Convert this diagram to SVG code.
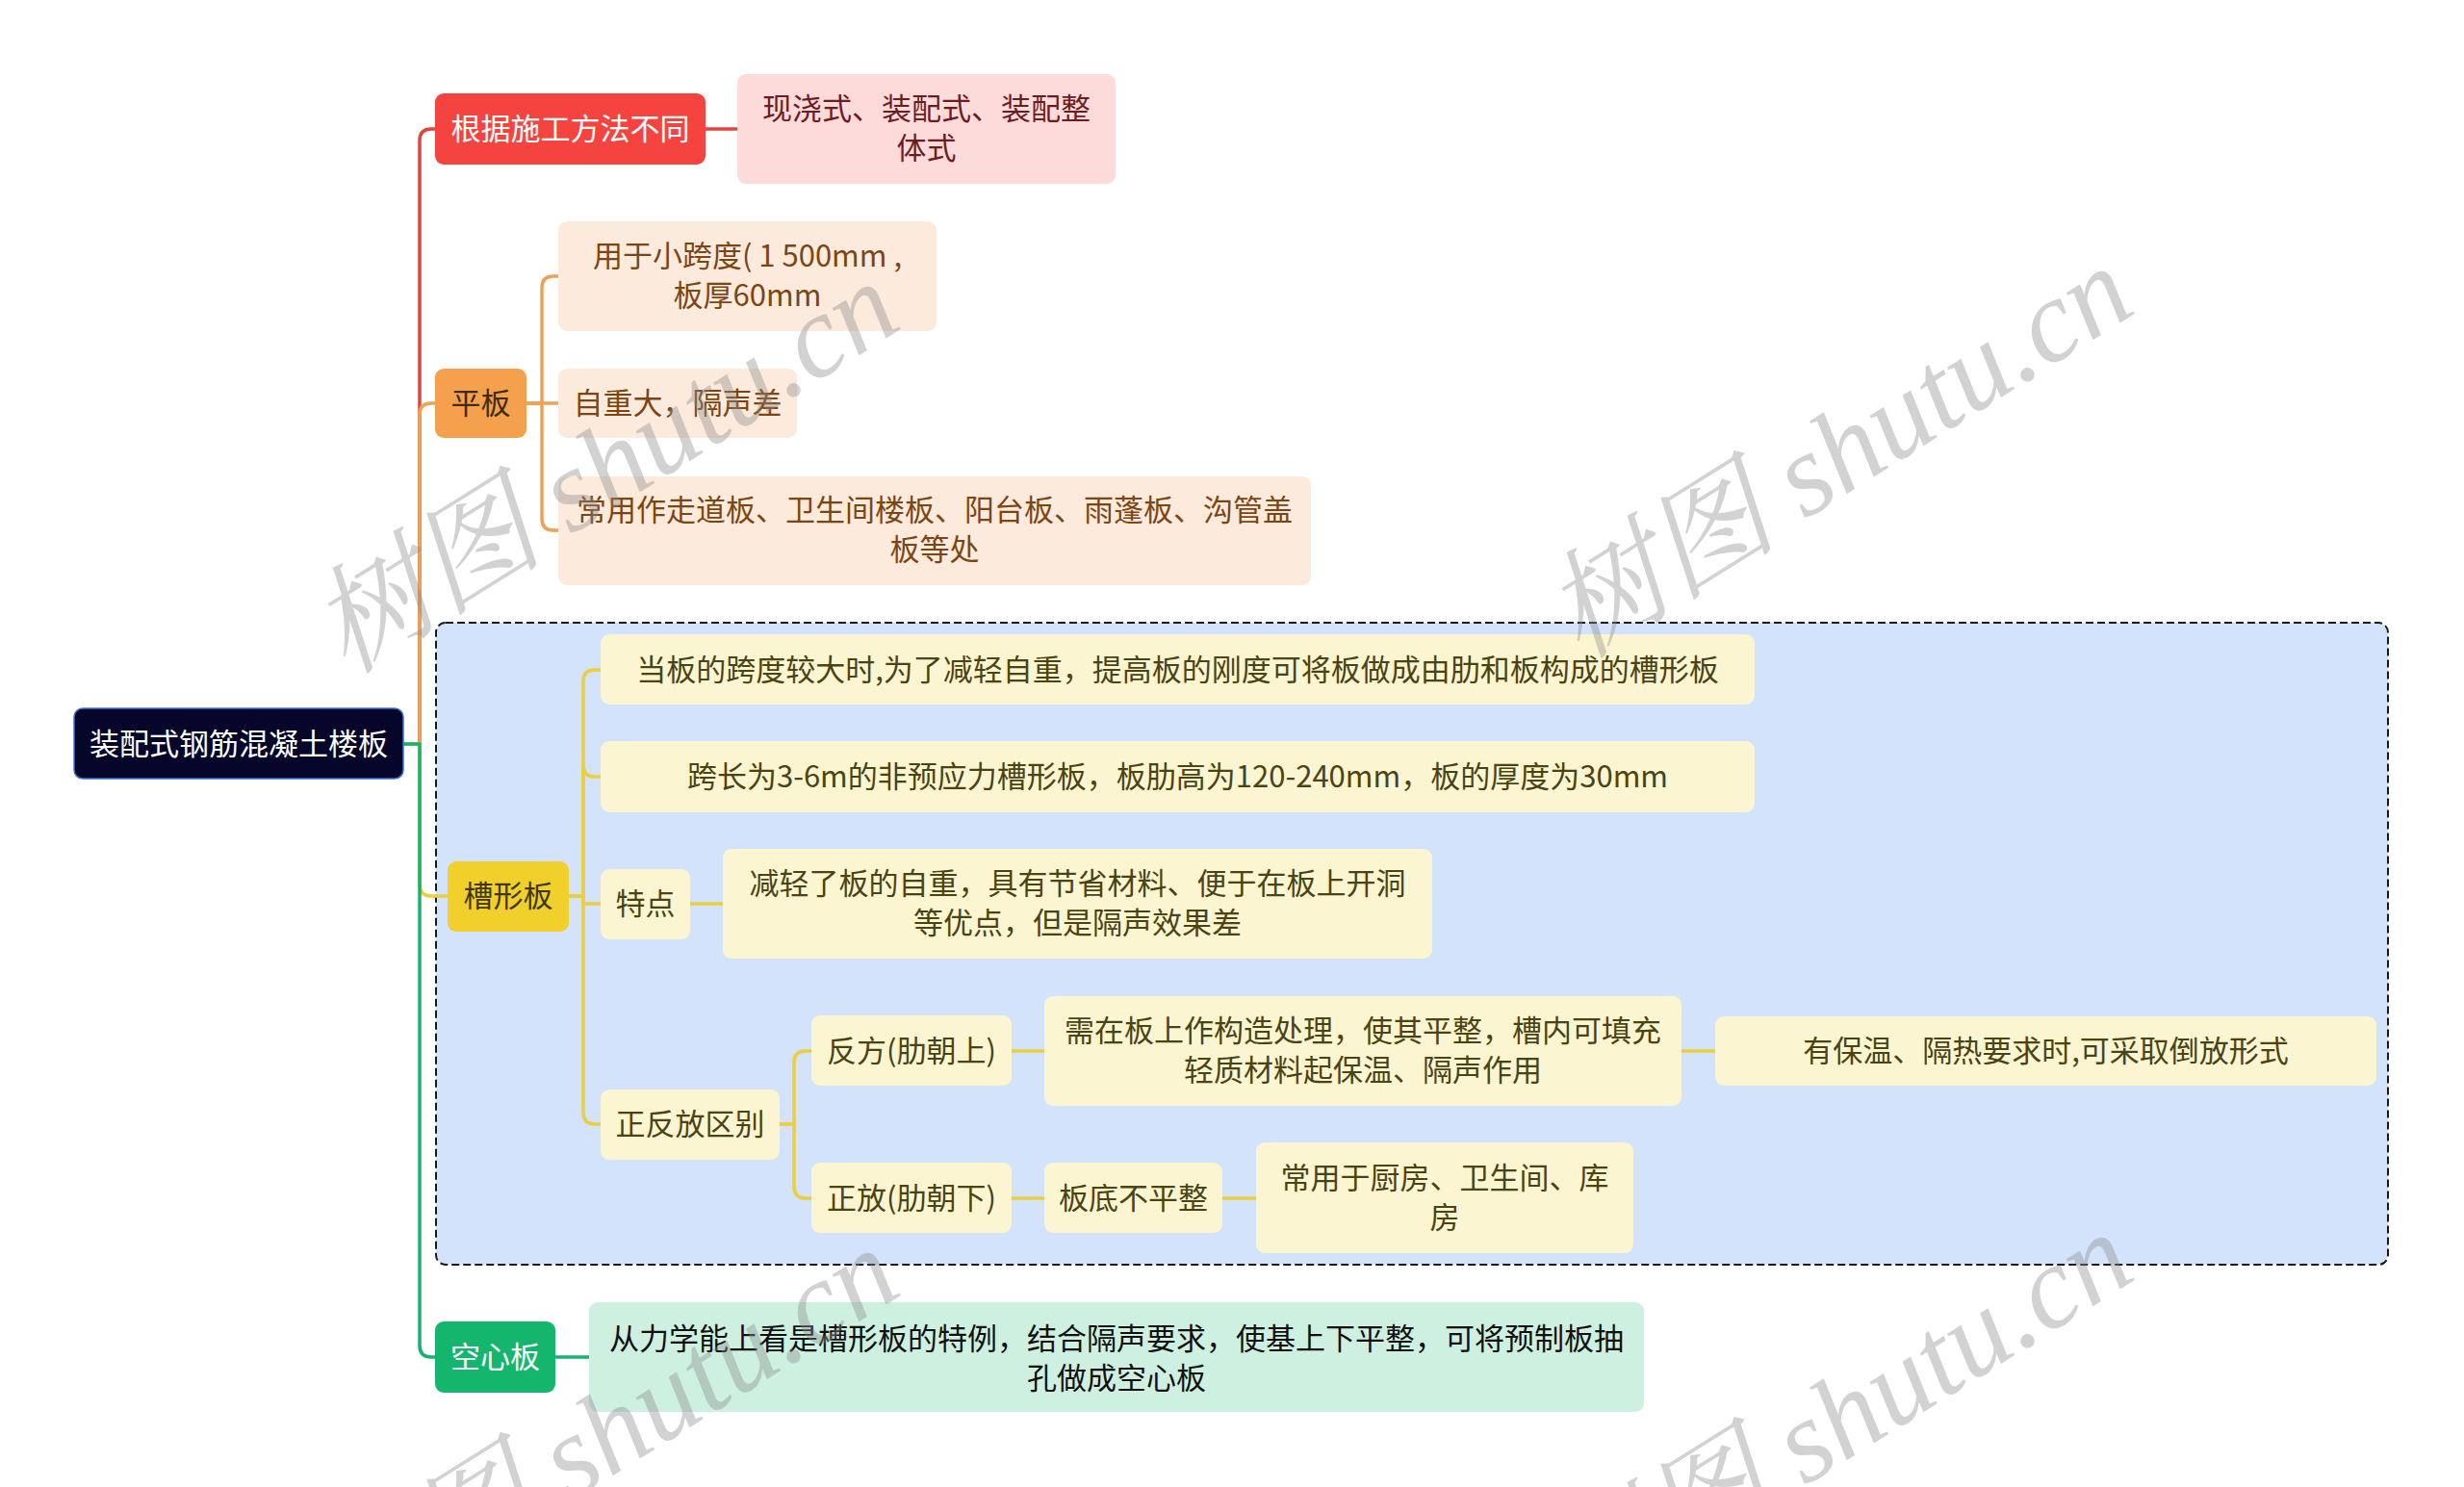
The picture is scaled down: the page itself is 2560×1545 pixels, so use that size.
<svg xmlns="http://www.w3.org/2000/svg" width="2560" height="1545" viewBox="0 0 2560 1545">
<style>
text{font-family:"Noto Sans CJK SC","Noto Sans",sans-serif;font-size:31px;text-anchor:middle;dominant-baseline:central}
.ln{fill:none;stroke-width:3.5;stroke-linecap:round;stroke-linejoin:round}
.r{stroke:#e5433d}.o{stroke:#eea256}.y{stroke:#ebcf3d}.g{stroke:#18b270}
.wm{font-family:"Liberation Serif","Noto Serif CJK SC","Noto Sans CJK SC",serif;font-style:italic;font-size:122px;fill:#8a8a8a;opacity:0.38;text-anchor:start;dominant-baseline:alphabetic}
</style>
<rect width="2560" height="1545" fill="#ffffff"/>
<g id="container">
<rect x="453" y="647" width="2028" height="667" rx="10" fill="#d3e3fb" stroke="#1a1a1a" stroke-width="2" stroke-dasharray="8 4"/>
</g>
<g id="connectors">
<path class="ln r" d="M419,773 H436 V146 Q436,134 448,134 H452"/>
<path class="ln r" d="M733,134 H766"/>
<path class="ln o" d="M419,773 H436 V431 Q436,419 448,419 H452"/>
<path class="ln o" d="M547,419 H563 V299 Q563,287 575,287 H580"/>
<path class="ln o" d="M547,419 H580"/>
<path class="ln o" d="M547,419 H563 V539 Q563,551 575,551 H580"/>
<path class="ln y" d="M419,773 H436 V919 Q436,931 448,931 H465"/>
<path class="ln y" d="M591,931 H606 V708 Q606,696 618,696 H624"/>
<path class="ln y" d="M591,931 H606 V795 Q606,807 618,807 H624"/>
<path class="ln y" d="M591,931 H606 V939 H624"/>
<path class="ln y" d="M591,931 H606 V1156 Q606,1168 618,1168 H624"/>
<path class="ln y" d="M717,939 H751"/>
<path class="ln y" d="M810,1168 H825 V1104 Q825,1092 837,1092 H843"/>
<path class="ln y" d="M810,1168 H825 V1233 Q825,1245 837,1245 H843"/>
<path class="ln y" d="M1051,1092 H1085"/>
<path class="ln y" d="M1747,1092 H1782"/>
<path class="ln y" d="M1051,1245 H1085"/>
<path class="ln y" d="M1270,1245 H1305"/>
<path class="ln g" d="M419,773 H436 V1398 Q436,1410 448,1410 H452"/>
<path class="ln g" d="M577,1410 H612"/>
</g>
<g id="root">
<rect x="77" y="736" width="342" height="73" rx="9" fill="#06062b" stroke="#3d72d4" stroke-width="1.5"/>
<text x="248" y="770" fill="#ffffff">装配式钢筋混凝土楼板</text>
</g>
<g id="n1">
<rect x="452" y="97" width="281" height="74" rx="9" fill="#f5443f"/>
<text x="592.5" y="131" fill="#ffffff">根据施工方法不同</text>
</g>
<g id="n1a">
<rect x="766" y="77" width="393" height="114" rx="9" fill="#fddbdb"/>
<text x="962.5" y="110.5" fill="#6e1c1c">现浇式、装配式、装配整</text>
<text x="962.5" y="151.5" fill="#6e1c1c">体式</text>
</g>
<g id="n2">
<rect x="452" y="383" width="95" height="72" rx="9" fill="#f5a04c"/>
<text x="499.5" y="416" fill="#3f2a13">平板</text>
</g>
<g id="n2a">
<rect x="580" y="230" width="393" height="114" rx="9" fill="#fcebdc"/>
<text x="776.5" y="263.5" fill="#7c4511">用于小跨度( 1 500mm ,</text>
<text x="776.5" y="304.5" fill="#7c4511">板厚60mm</text>
</g>
<g id="n2b">
<rect x="580" y="383" width="248" height="72" rx="9" fill="#fcebdc"/>
<text x="704" y="416" fill="#7c4511">自重大，隔声差</text>
</g>
<g id="n2c">
<rect x="580" y="495" width="782" height="113" rx="9" fill="#fcebdc"/>
<text x="971" y="527.5" fill="#7c4511">常用作走道板、卫生间楼板、阳台板、雨蓬板、沟管盖</text>
<text x="971" y="568.5" fill="#7c4511">板等处</text>
</g>
<g id="n3">
<rect x="465" y="895" width="126" height="73" rx="9" fill="#f1d02c"/>
<text x="528" y="928" fill="#3f3810">槽形板</text>
</g>
<g id="n3a">
<rect x="624" y="659" width="1199" height="73" rx="9" fill="#fcf5d2"/>
<text x="1223.5" y="693" fill="#4a4312">当板的跨度较大时,为了减轻自重，提高板的刚度可将板做成由肋和板构成的槽形板</text>
</g>
<g id="n3b">
<rect x="624" y="770" width="1199" height="74" rx="9" fill="#fcf5d2"/>
<text x="1223.5" y="804" fill="#4a4312">跨长为3-6m的非预应力槽形板，板肋高为120-240mm，板的厚度为30mm</text>
</g>
<g id="n3c">
<rect x="624" y="903" width="93" height="73" rx="9" fill="#fcf5d2"/>
<text x="670.5" y="936" fill="#4a4312">特点</text>
</g>
<g id="n3c1">
<rect x="751" y="882" width="737" height="114" rx="9" fill="#fcf5d2"/>
<text x="1119.5" y="915.5" fill="#4a4312">减轻了板的自重，具有节省材料、便于在板上开洞</text>
<text x="1119.5" y="956.5" fill="#4a4312">等优点，但是隔声效果差</text>
</g>
<g id="n3d">
<rect x="624" y="1132" width="186" height="73" rx="9" fill="#fcf5d2"/>
<text x="717" y="1165" fill="#4a4312">正反放区别</text>
</g>
<g id="n3d1">
<rect x="843" y="1055" width="208" height="73" rx="9" fill="#fcf5d2"/>
<text x="947" y="1089" fill="#4a4312">反方(肋朝上)</text>
</g>
<g id="n3d1a">
<rect x="1085" y="1035" width="662" height="114" rx="9" fill="#fcf5d2"/>
<text x="1416" y="1068.5" fill="#4a4312">需在板上作构造处理，使其平整，槽内可填充</text>
<text x="1416" y="1109.5" fill="#4a4312">轻质材料起保温、隔声作用</text>
</g>
<g id="n3d1b">
<rect x="1782" y="1056" width="687" height="72" rx="9" fill="#fcf5d2"/>
<text x="2125.5" y="1089" fill="#4a4312">有保温、隔热要求时,可采取倒放形式</text>
</g>
<g id="n3d2">
<rect x="843" y="1208" width="208" height="73" rx="9" fill="#fcf5d2"/>
<text x="947" y="1242" fill="#4a4312">正放(肋朝下)</text>
</g>
<g id="n3d2a">
<rect x="1085" y="1208" width="185" height="73" rx="9" fill="#fcf5d2"/>
<text x="1177.5" y="1242" fill="#4a4312">板底不平整</text>
</g>
<g id="n3d2b">
<rect x="1305" y="1187" width="392" height="115" rx="9" fill="#fcf5d2"/>
<text x="1501" y="1221.5" fill="#4a4312">常用于厨房、卫生间、库</text>
<text x="1501" y="1262.5" fill="#4a4312">房</text>
</g>
<g id="n4">
<rect x="452" y="1373" width="125" height="74" rx="9" fill="#14b66e"/>
<text x="514.5" y="1407" fill="#ffffff">空心板</text>
</g>
<g id="n4a">
<rect x="612" y="1353" width="1096" height="114" rx="9" fill="#cdf0e0"/>
<text x="1160" y="1388" fill="#111111">从力学能上看是槽形板的特例，结合隔声要求，使基上下平整，可将预制板抽</text>
<text x="1160" y="1429" fill="#111111">孔做成空心板</text>
</g>
<g id="watermarks">
<text class="wm" transform="translate(360,702) rotate(-32)">树图 shutu.cn</text>
<text class="wm" transform="translate(1642,686) rotate(-32)">树图 shutu.cn</text>
<text class="wm" transform="translate(360,1706) rotate(-32)">树图 shutu.cn</text>
<text class="wm" transform="translate(1642,1690) rotate(-32)">树图 shutu.cn</text>
</g>
</svg>
